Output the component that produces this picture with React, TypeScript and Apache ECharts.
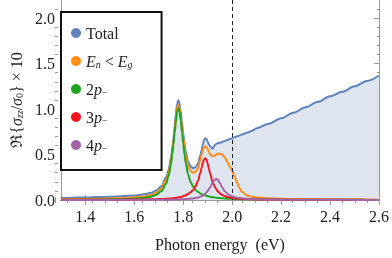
import React, { useEffect, useRef } from 'react';
import * as echarts from 'echarts';

const energy = [
  1.30, 1.35, 1.40, 1.45, 1.50, 1.55, 1.60, 1.64, 1.67, 1.69, 1.71,
  1.73, 1.74, 1.75, 1.755, 1.76, 1.765, 1.77, 1.775, 1.78, 1.785, 1.79, 1.795, 1.80, 1.805, 1.81, 1.82,
  1.83, 1.84, 1.85, 1.86, 1.87, 1.875, 1.88, 1.885, 1.89, 1.895, 1.90, 1.905, 1.91, 1.92, 1.925,
  1.93, 1.935, 1.94, 1.945, 1.95, 1.96, 1.97, 1.98, 1.99, 2.00, 2.01, 2.02,
  2.03, 2.04, 2.06, 2.08, 2.10,
  2.15, 2.20, 2.25, 2.30, 2.35, 2.40, 2.45, 2.50, 2.55, 2.60,
];

const totalVals = [
  0.022, 0.025, 0.028, 0.032, 0.036, 0.042, 0.05, 0.062, 0.08, 0.105, 0.15,
  0.25, 0.33, 0.47, 0.57, 0.68, 0.82, 0.95, 1.06, 1.10, 1.06, 0.97, 0.85, 0.73, 0.63, 0.54, 0.42,
  0.37, 0.35, 0.36, 0.40, 0.49, 0.55, 0.61, 0.66, 0.68, 0.67, 0.64, 0.61, 0.59, 0.565, 0.585,
  0.61, 0.615, 0.625, 0.628, 0.63, 0.64, 0.65, 0.66, 0.67, 0.68, 0.69, 0.70,
  0.71, 0.72, 0.74, 0.76, 0.79,
  0.84, 0.90, 0.96, 1.02, 1.08, 1.14, 1.19, 1.25, 1.31, 1.37,
];

const belowGapVals = [
  0.009, 0.010, 0.011, 0.013, 0.016, 0.020, 0.027, 0.038, 0.055, 0.08, 0.125,
  0.22, 0.30, 0.43, 0.53, 0.64, 0.78, 0.90, 1.01, 1.05, 1.01, 0.92, 0.80, 0.69, 0.58, 0.49, 0.37,
  0.32, 0.30, 0.31, 0.35, 0.44, 0.50, 0.55, 0.58, 0.59, 0.58, 0.56, 0.53, 0.50, 0.48, 0.48,
  0.49, 0.50, 0.51, 0.51, 0.51, 0.50, 0.47, 0.42, 0.37, 0.32, 0.26, 0.19,
  0.13, 0.09, 0.05, 0.035, 0.027,
  0.018, 0.013, 0.010, 0.008, 0.007, 0.006, 0.006, 0.005, 0.005, 0.004,
];

const p2Vals = [
  0.002, 0.003, 0.004, 0.005, 0.007, 0.010, 0.015, 0.024, 0.038, 0.058, 0.095,
  0.18, 0.26, 0.39, 0.50, 0.61, 0.74, 0.86, 0.97, 1.01, 0.97, 0.87, 0.74, 0.62, 0.50, 0.41, 0.28,
  0.20, 0.15, 0.114, 0.09, 0.072, 0.065, 0.059, 0.054, 0.05, 0.046, 0.042, 0.039, 0.036, 0.031, 0.029,
  0.027, 0.025, 0.024, 0.022, 0.021, 0.019, 0.017, 0.015, 0.014, 0.013, 0.012, 0.011,
  0.010, 0.009, 0.008, 0.007, 0.006,
  0.005, 0.004, 0.003, 0.003, 0.002, 0.002, 0.002, 0.002, 0.001, 0.001,
];

const p3Vals = [
  0.002, 0.002, 0.002, 0.003, 0.003, 0.004, 0.005, 0.006, 0.008, 0.009, 0.011,
  0.013, 0.015, 0.017, 0.018, 0.020, 0.022, 0.024, 0.026, 0.028, 0.031, 0.034, 0.038, 0.042, 0.047, 0.052, 0.066,
  0.085, 0.11, 0.15, 0.21, 0.30, 0.35, 0.41, 0.445, 0.46, 0.445, 0.40, 0.345, 0.29, 0.20, 0.17,
  0.14, 0.12, 0.10, 0.085, 0.072, 0.055, 0.043, 0.034, 0.028, 0.023, 0.019, 0.016,
  0.014, 0.012, 0.010, 0.008, 0.007,
  0.005, 0.004, 0.003, 0.003, 0.002, 0.002, 0.002, 0.002, 0.001, 0.001,
];

const p4Vals = [
  0.001, 0.001, 0.001, 0.001, 0.001, 0.002, 0.002, 0.002, 0.002, 0.003, 0.003,
  0.003, 0.004, 0.004, 0.004, 0.005, 0.005, 0.005, 0.0055, 0.006, 0.0065, 0.007, 0.0075, 0.008, 0.009, 0.010, 0.012,
  0.014, 0.017, 0.021, 0.027, 0.036, 0.042, 0.05, 0.06, 0.07, 0.084, 0.10, 0.12, 0.14, 0.19, 0.21,
  0.225, 0.232, 0.225, 0.21, 0.185, 0.135, 0.095, 0.07, 0.052, 0.04, 0.032, 0.026,
  0.021, 0.018, 0.013, 0.010, 0.008,
  0.005, 0.004, 0.003, 0.002, 0.002, 0.002, 0.002, 0.001, 0.001, 0.001,
];

const seriesNames = ['Total', 'En<Eg', '2p-', '3p-', '4p-'];
const seriesColors = ['#5f84c0', '#ff8c14', '#1ca61c', '#f5141e', '#a264a6'];

const xMajorTicks = [1.4, 1.6, 1.8, 2.0, 2.2, 2.4, 2.6];
const xMinorTicks = [1.3, 1.35, 1.45, 1.5, 1.55, 1.65, 1.7, 1.75, 1.85, 1.9, 1.95, 2.05, 2.1, 2.15, 2.25, 2.3, 2.35, 2.45, 2.5, 2.55];
const yMajorTicks = [0, 0.5, 1.0, 1.5, 2.0];
const yMinorTicks = [0.1, 0.2, 0.3, 0.4, 0.6, 0.7, 0.8, 0.9, 1.1, 1.2, 1.3, 1.4, 1.6, 1.7, 1.8, 1.9, 2.1];
const gapEnergy = 2.0;

export default function App() {
  const ref = useRef<HTMLDivElement>(null);
  useEffect(() => {
    const chart = echarts.init(ref.current as HTMLDivElement, null, { renderer: 'svg' });
    const font = "'Liberation Serif', 'DejaVu Serif', serif";
    const txt = '#222';
    const pairs = (vals: number[]) => energy.map((e, i) => [e, vals[i]]);
    const rich = {
      t: { fontFamily: font, fontSize: 16, lineHeight: 16, color: txt, verticalAlign: 'middle' },
      i: { fontFamily: font, fontSize: 16, lineHeight: 16, color: txt, fontStyle: 'italic', verticalAlign: 'middle' },
      s: { fontFamily: font, fontSize: 10, lineHeight: 6, color: txt, fontStyle: 'italic', verticalAlign: 'bottom' },
      su: { fontFamily: font, fontSize: 10, lineHeight: 6, color: txt, verticalAlign: 'bottom' },
    };
    const legendText: Record<string, string> = {
      'Total': '{t|Total}',
      'En<Eg': '{i|E}{s|n}{t| < }{i|E}{s|g}',
      '2p-': '{t|2}{i|p}{su|−}',
      '3p-': '{t|3}{i|p}{su|−}',
      '4p-': '{t|4}{i|p}{su|−}',
    };
    const frame = '#9a9a9a';
    const gridPos = { left: 55, right: 12, top: 0, bottom: 58 };
    const xCommon = { type: 'value', min: 1.3, max: 2.6, splitLine: { show: false } };
    const yCommon = { type: 'value', min: 0, max: 2.2, splitLine: { show: false } };
    const fmt = (v: number) => v.toFixed(1);

    const lineSeries = [belowGapVals, p2Vals, p3Vals, p4Vals].map((vals, k) => ({
      name: seriesNames[k + 1],
      type: 'line',
      data: pairs(vals),
      showSymbol: false,
      smooth: 0.35,
      smoothMonotone: 'x',
      lineStyle: { width: 2, color: seriesColors[k + 1] },
      itemStyle: { color: seriesColors[k + 1] },
      z: 3 + k,
    }));

    chart.setOption({
      animation: false,
      grid: [
        { ...gridPos, containLabel: false },
        { ...gridPos, containLabel: false },
      ],
      xAxis: [
        {
          ...xCommon, gridIndex: 0, position: 'bottom',
          axisLine: { show: true, lineStyle: { color: frame, width: 1 } },
          axisTick: { show: true, inside: true, length: 5, customValues: xMajorTicks, lineStyle: { color: frame } },
          axisLabel: { show: true, customValues: xMajorTicks, formatter: fmt, fontFamily: font, fontSize: 16, color: txt, margin: 8 },
          name: 'Photon energy  (eV)', nameLocation: 'middle', nameGap: 36,
          nameTextStyle: { fontFamily: font, fontSize: 16, color: txt },
        },
        {
          ...xCommon, gridIndex: 0, position: 'top',
          axisLine: { show: true, lineStyle: { color: frame, width: 1 } },
          axisTick: { show: true, inside: true, length: 5, customValues: xMajorTicks, lineStyle: { color: frame } },
          axisLabel: { show: false },
        },
        {
          ...xCommon, gridIndex: 1, position: 'bottom',
          axisLine: { show: false },
          axisTick: { show: true, inside: true, length: 3, customValues: xMinorTicks, lineStyle: { color: frame } },
          axisLabel: { show: false },
        },
        {
          ...xCommon, gridIndex: 1, position: 'top',
          axisLine: { show: false },
          axisTick: { show: true, inside: true, length: 3, customValues: xMinorTicks, lineStyle: { color: frame } },
          axisLabel: { show: false },
        },
      ],
      yAxis: [
        {
          ...yCommon, gridIndex: 0, position: 'left',
          axisLine: { show: true, lineStyle: { color: frame, width: 1 } },
          axisTick: { show: true, inside: true, length: 5, customValues: yMajorTicks, lineStyle: { color: frame } },
          axisLabel: { show: true, customValues: yMajorTicks, formatter: fmt, fontFamily: font, fontSize: 16, color: txt, margin: 6 },
          name: '{t|ℜ}{t|{}{i|σ}{s|zz}{t|/}{i|σ}{su|0}} × 10',
          nameLocation: 'middle', nameRotate: 90, nameGap: 33,
          nameTextStyle: { fontFamily: font, fontSize: 16, lineHeight: 16, color: txt, rich },
        },
        {
          ...yCommon, gridIndex: 0, position: 'right',
          axisLine: { show: true, lineStyle: { color: frame, width: 1 } },
          axisTick: { show: true, inside: true, length: 5, customValues: yMajorTicks, lineStyle: { color: frame } },
          axisLabel: { show: false },
        },
        {
          ...yCommon, gridIndex: 1, position: 'left',
          axisLine: { show: false },
          axisTick: { show: true, inside: true, length: 3, customValues: yMinorTicks, lineStyle: { color: frame } },
          axisLabel: { show: false },
        },
        {
          ...yCommon, gridIndex: 1, position: 'right',
          axisLine: { show: false },
          axisTick: { show: true, inside: true, length: 3, customValues: yMinorTicks, lineStyle: { color: frame } },
          axisLabel: { show: false },
        },
      ],
      legend: {
        data: seriesNames,
        left: 61, top: 12, orient: 'vertical',
        icon: 'circle', itemWidth: 10, itemHeight: 10, itemGap: 12,
        padding: [13, 29, 17, 10],
        backgroundColor: '#fff', borderColor: '#111', borderWidth: 2, borderRadius: 0,
        formatter: (n: string) => legendText[n],
        textStyle: { fontFamily: font, fontSize: 16, lineHeight: 16, color: txt, rich },
      },
      series: [
        {
          name: seriesNames[0],
          type: 'line',
          data: pairs(totalVals),
          showSymbol: false,
          smooth: 0.35,
          smoothMonotone: 'x',
          lineStyle: { width: 2, color: seriesColors[0] },
          itemStyle: { color: seriesColors[0] },
          areaStyle: { color: '#dfe5ef', opacity: 1 },
          z: 2,
          markLine: {
            silent: true,
            symbol: ['none', 'none'],
            label: { show: false },
            lineStyle: { type: [4, 3], color: '#222', width: 1 },
            data: [{ xAxis: gapEnergy }],
          },
        },
        ...lineSeries,
      ],
    });
    return () => chart.dispose();
  }, []);
  return <div ref={ref} style={{ position: 'fixed', left: 0, top: 0, width: 392, height: 258 }} />;
}
